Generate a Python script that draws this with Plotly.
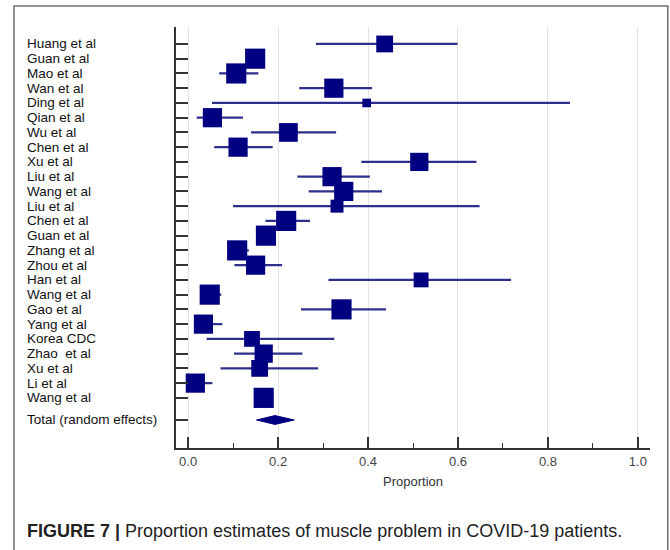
import plotly.graph_objects as go

# Study labels, top to bottom
studies = [
    "Huang et al", "Guan et al", "Mao et al", "Wan et al", "Ding et al",
    "Qian et al", "Wu et al", "Chen et al", "Xu et al", "Liu et al",
    "Wang et al", "Liu et al", "Chen et al", "Guan et al", "Zhang et al",
    "Zhou et al", "Han et al", "Wang et al", "Gao et al", "Yang et al",
    "Korea CDC", "Zhao  et al", "Xu et al", "Li et al", "Wang et al",
]

# Proportion estimates with 95% confidence limits
proportion = [0.437, 0.149, 0.107, 0.324, 0.397, 0.054, 0.223, 0.111, 0.514, 0.320,
              0.346, 0.331, 0.218, 0.173, 0.109, 0.150, 0.518, 0.048, 0.341, 0.034,
              0.142, 0.168, 0.159, 0.016, 0.168]
ci_low = [0.284, 0.130, 0.069, 0.247, 0.053, 0.019, 0.140, 0.058, 0.385, 0.243,
          0.268, 0.100, 0.172, 0.155, 0.090, 0.103, 0.312, 0.030, 0.251, 0.015,
          0.041, 0.102, 0.072, 0.002, 0.150]
ci_high = [0.599, 0.168, 0.156, 0.409, 0.849, 0.122, 0.329, 0.188, 0.641, 0.404,
           0.431, 0.648, 0.271, 0.192, 0.135, 0.209, 0.718, 0.074, 0.440, 0.076,
           0.325, 0.254, 0.289, 0.054, 0.186]

# Relative study weights (%), random effects model
weights = [3.5, 4.2, 4.2, 4.0, 1.8, 4.0, 3.9, 4.0, 3.8, 4.0,
           4.0, 2.7, 4.2, 4.2, 4.2, 4.0, 3.1, 4.2, 4.2, 4.0,
           3.3, 3.8, 3.5, 4.0, 4.2]

# Pooled estimate
total_label = "Total (random effects)"
total_est, total_low, total_high = 0.193, 0.152, 0.236

x_ticks = [0.0, 0.2, 0.4, 0.6, 0.8, 1.0]

NAVY = "#000080"
WHISKER = "#2e2e8c"
FONT = "Liberation Sans, Arial, sans-serif"

rows = list(range(len(studies)))
total_row = len(studies) - 1 + 1.5

fig = go.Figure()

# Confidence intervals and weighted squares
fig.add_trace(go.Scatter(
    x=proportion, y=rows, mode="markers",
    marker=dict(symbol="square", color=NAVY, size=[4.8 * w for w in weights],
                opacity=1, line=dict(width=0)),
    error_x=dict(type="data", symmetric=False,
                 array=[h - p for h, p in zip(ci_high, proportion)],
                 arrayminus=[p - l for p, l in zip(proportion, ci_low)],
                 color=WHISKER, thickness=2.2, width=0),
    hoverinfo="x", showlegend=False,
))

# Pooled diamond
half_h = 0.3
fig.add_trace(go.Scatter(
    x=[total_low, total_est, total_high, total_est, total_low],
    y=[total_row, total_row - half_h, total_row, total_row + half_h, total_row],
    mode="lines", fill="toself", fillcolor=NAVY,
    line=dict(color=NAVY, width=1), showlegend=False, hoverinfo="skip",
))

# Study labels, left aligned
annotations = []
for r, name in zip(rows + [total_row], studies + [total_label]):
    annotations.append(dict(
        x=-0.3155, xref="paper", y=r, yref="y", text=name, showarrow=False,
        xanchor="left", yanchor="middle", borderpad=0,
        font=dict(family=FONT, size=13.5, color="#111"),
    ))

# Caption
annotations.append(dict(
    x=-0.318, xref="paper", y=-0.197, yref="paper",
    text="<b>FIGURE 7 |</b> Proportion estimates of muscle problem in COVID-19 patients.",
    showarrow=False, xanchor="left", yanchor="middle",
    font=dict(family=FONT, size=18, color="#222"),
))

# Outer frame
shapes = [dict(type="rect", xref="paper", yref="paper",
               x0=-0.3418, x1=1.0375, y0=-0.3, y1=1.05,
               line=dict(color="#6f6f6f", width=1.5), fillcolor="rgba(0,0,0,0)",
               layer="below")]

fig.update_layout(
    width=670, height=550,
    margin=dict(l=176, r=20, t=27, b=102),
    paper_bgcolor="white", plot_bgcolor="white",
    font=dict(family=FONT),
    annotations=annotations, shapes=shapes,
    xaxis=dict(
        range=[-0.027, 1.027], tickvals=x_ticks, tickformat=".1f",
        showgrid=True, gridcolor="#e4e4e4", gridwidth=1, zeroline=False,
        showline=True, linecolor="#333", linewidth=2,
        ticks="inside", ticklen=11, tickwidth=1.5, tickcolor="#333",
        minor=dict(dtick=0.1, tick0=0, ticks="inside", ticklen=5,
                   tickwidth=1.2, tickcolor="#333", showgrid=False),
        tickfont=dict(size=13, color="#444"),
        title=dict(text="Proportion", font=dict(size=13, color="#333"), standoff=9),
    ),
    yaxis=dict(
        range=[27.4, -1.15], tickvals=rows + [total_row], showticklabels=False,
        showgrid=False, zeroline=False,
        showline=True, linecolor="#333", linewidth=2,
        ticks="inside", ticklen=12, tickwidth=1.5, tickcolor="#333",
    ),
)

fig.write_html("out.html")
